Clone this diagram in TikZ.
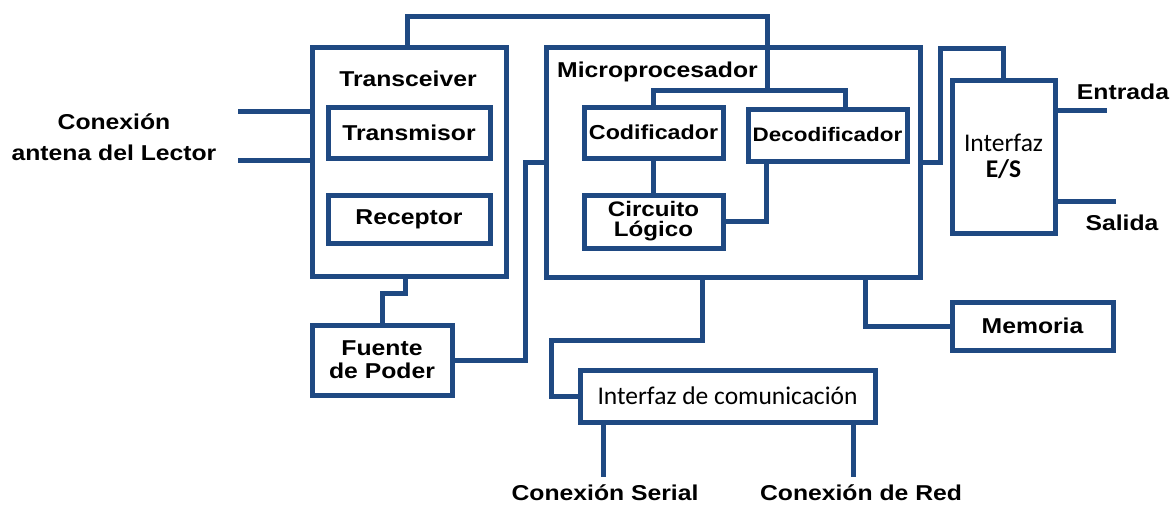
\documentclass[tikz,border=0pt]{standalone}
\usepackage{fontspec}
\setmainfont[FakeStretch=1.15]{Liberation Sans}
\newfontfamily\calfont{Carlito}
\definecolor{wireblue}{RGB}{31,73,130}
\newcommand\blocktext{\fontsize{21.5}{23}\selectfont\bfseries}
\begin{document}
\begin{tikzpicture}[x=1pt,y=-1pt,
  wire/.style={draw=wireblue,line width=5pt,line join=miter},
  block/.style={draw=wireblue,line width=5pt,outer sep=0pt,inner sep=0pt,
    align=center,font=\blocktext},
  caption/.style={inner sep=0pt,align=center,font=\blocktext}]
\useasboundingbox (0,0) rectangle (1174,504);

% ---- blocks ----
\node[block,minimum width=194pt,minimum height=229pt] (tcv) at (409,161.5) {};
\node[caption] (tcvlabel) at (408,79) {Transceiver};
\node[block,minimum width=162pt,minimum height=51pt] (tx) at (409,132.5) {Transmisor};
\node[block,minimum width=162pt,minimum height=48pt] (rx) at (409,219) {Receptor};
\node[block,minimum width=140pt,minimum height=70pt,
      font=\fontsize{21.5}{23}\selectfont\bfseries] (psu) at (382,360) {Fuente\\de Poder};

\node[block,minimum width=374pt,minimum height=230pt] (mcu) at (733,162) {};
\node[caption] (mculabel) at (657.5,72) {Microprocesador};
\node[block,minimum width=139pt,minimum height=51pt,
      font=\fontsize{20.2}{22}\selectfont\bfseries] (cod) at (653.5,132.5) {Codificador};
\node[block,minimum width=159pt,minimum height=52pt,
      font=\fontsize{19.5}{22}\selectfont\bfseries] (dec) at (827.5,135) {Decodificador};
\node[block,minimum width=139pt,minimum height=53pt,
      font=\fontsize{21}{20}\selectfont\bfseries] (logic) at (653.5,221.5) {Circuito\\Lógico};

\node[block,minimum width=103pt,minimum height=153pt,
      font=\fontsize{25.5}{26}\selectfont\calfont] (io) at (1003.5,156.5) {Interfaz\\\bfseries E/S};
\node[block,minimum width=161pt,minimum height=48pt] (mem) at (1032.5,326) {Memoria};
\node[block,minimum width=295pt,minimum height=52pt,
      font=\fontsize{25.5}{26}\selectfont\calfont] (com) at (727.5,396) {Interfaz de comunicación};

% ---- outer labels ----
\node[caption,font=\fontsize{21.5}{31}\selectfont\bfseries] (antlabel) at (114,137) {Conexión\\antena del Lector};
\node[caption] (inlabel) at (1123,92) {Entrada};
\node[caption] (outlabel) at (1122,223) {Salida};
\node[caption] (serlabel) at (605,493) {Conexión Serial};
\node[caption] (netlabel) at (861,493) {Conexión de Red};

% ---- free wire ends ----
\coordinate (antA) at (238,111);
\coordinate (antB) at (238,160);
\coordinate (inEnd) at (1107,110);
\coordinate (outEnd) at (1116,201);
\coordinate (serEnd) at (603,477);
\coordinate (netEnd) at (853,477);

% ---- wiring ----
% antenna feed
\draw[wire] (antA) -- (tcv.west |- antA);
\draw[wire] (antB) -- (tcv.west |- antB);
% transceiver to microprocessor over the top, into the coder bus
\draw[wire] ([xshift=-2pt]tcv.north) |- (767,16) -- (767,90);
\draw[wire] (cod.north) |- (845,90) -- ([xshift=17.5pt]dec.north);
% coder / decoder to logic circuit
\draw[wire] (cod.south) -- (logic.north);
\draw[wire] ([xshift=-61.5pt]dec.south) |- (logic.east);
% power supply
\draw[wire] ([xshift=-4pt]tcv.south) |- ([yshift=32pt]psu.north) -- (psu.north);
\draw[wire] (psu.east) -| (525,162) -- (mcu.west);
% I/O interface
\draw[wire] (mcu.east) -| (940,48) -| (io.north);
\draw[wire] (io.east |- inEnd) -- (inEnd);
\draw[wire] (io.east |- outEnd) -- (outEnd);
% memory
\draw[wire] (mcu.south -| 865,0) |- (mem.west);
% communication interface
\draw[wire] (mcu.south -| 702,0) |- (551,340) |- (com.west);
\draw[wire] (com.south -| serEnd) -- (serEnd);
\draw[wire] (com.south -| netEnd) -- (netEnd);
\end{tikzpicture}
\end{document}
